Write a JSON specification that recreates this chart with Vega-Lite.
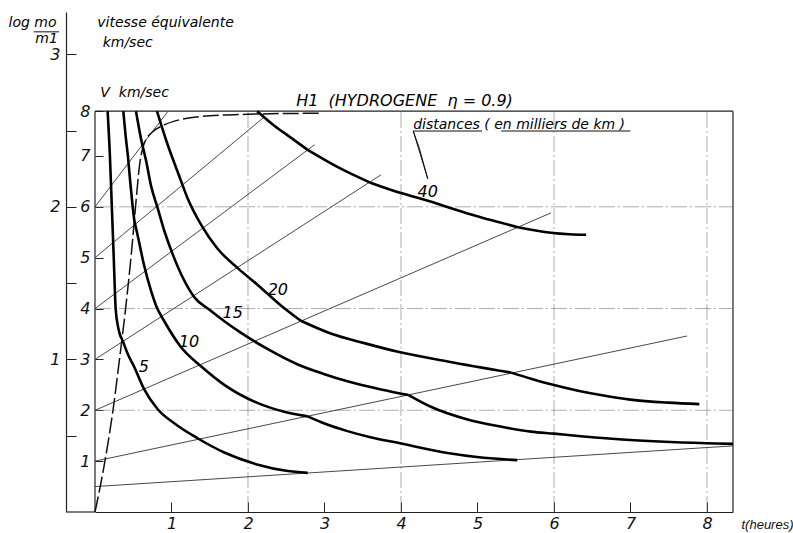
{
  "$schema": "https://vega.github.io/schema/vega-lite/v6.json",
  "width": 638,
  "height": 500,
  "autosize": {"type": "none"},
  "padding": {"left": 95, "top": 12, "right": 60, "bottom": 21},
  "background": "white",
  "config": {
    "view": {"stroke": null},
    "font": "DejaVu Sans",
    "axis": {
      "grid": false,
      "labelFont": "DejaVu Sans",
      "labelFontStyle": "italic",
      "labelFontSize": 16,
      "labelColor": "#111",
      "tickColor": "#222",
      "tickWidth": 1,
      "domainColor": "#222",
      "domainWidth": 1.2,
      "titleFont": "Liberation Sans",
      "titleFontStyle": "italic",
      "titleFontWeight": "normal",
      "titleColor": "#111"
    }
  },
  "datasets": {
    "grid": [
      {"t": 2, "V": 0, "t2": 2, "V2": 7.88},
      {"t": 4, "V": 0, "t2": 4, "V2": 7.88},
      {"t": 6, "V": 0, "t2": 6, "V2": 7.88},
      {"t": 8, "V": 0, "t2": 8, "V2": 7.88},
      {"t": 0, "V": 2, "t2": 8.34, "V2": 2},
      {"t": 0, "V": 4, "t2": 8.34, "V2": 4},
      {"t": 0, "V": 6, "t2": 8.34, "V2": 6}
    ],
    "frame": [
      {"t": 0, "V": 7.88, "t2": 8.34, "V2": 7.88},
      {"t": 8.34, "V": 0, "t2": 8.34, "V2": 7.88},
      {"t": 0, "V": 0, "t2": 0, "V2": 7.88}
    ],
    "rays": [
      {"ray": "A", "t": 0, "V": 0.5}, {"ray": "A", "t": 8.34, "V": 1.3},
      {"ray": "B", "t": 0, "V": 1.0}, {"ray": "B", "t": 7.74, "V": 3.46},
      {"ray": "C", "t": 0, "V": 2.0}, {"ray": "C", "t": 5.96, "V": 5.88},
      {"ray": "D", "t": 0, "V": 3.0}, {"ray": "D", "t": 3.74, "V": 6.63},
      {"ray": "E", "t": 0, "V": 4.0}, {"ray": "E", "t": 2.87, "V": 7.22},
      {"ray": "F", "t": 0, "V": 5.0}, {"ray": "F", "t": 2.2, "V": 7.75},
      {"ray": "G", "t": 0, "V": 6.0}, {"ray": "G", "t": 0.95, "V": 7.87}
    ],
    "equiv": [
      {"t": 0, "V": 0}, {"t": 0.13, "V": 1}, {"t": 0.235, "V": 2}, {"t": 0.32, "V": 3},
      {"t": 0.4, "V": 4}, {"t": 0.47, "V": 5}, {"t": 0.53, "V": 6}, {"t": 0.56, "V": 6.5},
      {"t": 0.585, "V": 6.85}, {"t": 0.615, "V": 7.1}, {"t": 0.645, "V": 7.25},
      {"t": 0.75, "V": 7.47}, {"t": 0.89, "V": 7.6}, {"t": 1.1, "V": 7.71},
      {"t": 1.5, "V": 7.79}, {"t": 2.0, "V": 7.82}, {"t": 2.95, "V": 7.84}
    ],
    "curves": [
      {"piece": "5a", "t": 0.165, "V": 7.88}, {"piece": "5a", "t": 0.195, "V": 7.0},
      {"piece": "5a", "t": 0.22, "V": 6.0}, {"piece": "5a", "t": 0.245, "V": 5.0},
      {"piece": "5a", "t": 0.27, "V": 4.0}, {"piece": "5a", "t": 0.3, "V": 3.65},
      {"piece": "5a", "t": 0.33, "V": 3.47}, {"piece": "5a", "t": 0.36, "V": 3.38},
      {"piece": "5b", "t": 0.36, "V": 3.38}, {"piece": "5b", "t": 0.43, "V": 3.1},
      {"piece": "5b", "t": 0.51, "V": 2.86}, {"piece": "5b", "t": 0.64, "V": 2.42},
      {"piece": "5b", "t": 0.82, "V": 2.02}, {"piece": "5b", "t": 1.04, "V": 1.74},
      {"piece": "5b", "t": 1.34, "V": 1.45}, {"piece": "5b", "t": 1.69, "V": 1.17},
      {"piece": "5b", "t": 2.13, "V": 0.93}, {"piece": "5b", "t": 2.5, "V": 0.81},
      {"piece": "5b", "t": 2.78, "V": 0.77},

      {"piece": "10a", "t": 0.37, "V": 7.88}, {"piece": "10a", "t": 0.4, "V": 7.4},
      {"piece": "10a", "t": 0.43, "V": 7.0}, {"piece": "10a", "t": 0.46, "V": 6.5},
      {"piece": "10a", "t": 0.49, "V": 6.04}, {"piece": "10a", "t": 0.515, "V": 5.72},
      {"piece": "10b", "t": 0.515, "V": 5.72}, {"piece": "10b", "t": 0.56, "V": 5.42},
      {"piece": "10b", "t": 0.64, "V": 4.86}, {"piece": "10b", "t": 0.73, "V": 4.36},
      {"piece": "10b", "t": 0.8, "V": 4.05}, {"piece": "10b", "t": 0.91, "V": 3.74},
      {"piece": "10b", "t": 1.12, "V": 3.25}, {"piece": "10b", "t": 1.39, "V": 2.86},
      {"piece": "10b", "t": 1.69, "V": 2.5}, {"piece": "10b", "t": 2.13, "V": 2.14},
      {"piece": "10b", "t": 2.45, "V": 1.98}, {"piece": "10b", "t": 2.78, "V": 1.88},
      {"piece": "10c", "t": 2.78, "V": 1.88}, {"piece": "10c", "t": 3.0, "V": 1.74},
      {"piece": "10c", "t": 3.3, "V": 1.59}, {"piece": "10c", "t": 3.6, "V": 1.47},
      {"piece": "10c", "t": 3.96, "V": 1.36}, {"piece": "10c", "t": 4.61, "V": 1.16},
      {"piece": "10c", "t": 5.05, "V": 1.07}, {"piece": "10c", "t": 5.52, "V": 1.02},

      {"piece": "15a", "t": 0.536, "V": 7.88}, {"piece": "15a", "t": 0.6, "V": 7.35},
      {"piece": "15a", "t": 0.67, "V": 6.89}, {"piece": "15a", "t": 0.73, "V": 6.43},
      {"piece": "15a", "t": 0.82, "V": 5.97}, {"piece": "15a", "t": 0.91, "V": 5.51},
      {"piece": "15a", "t": 1.02, "V": 5.05}, {"piece": "15a", "t": 1.15, "V": 4.6},
      {"piece": "15a", "t": 1.3, "V": 4.22}, {"piece": "15a", "t": 1.5, "V": 3.97},
      {"piece": "15a", "t": 1.7, "V": 3.74}, {"piece": "15a", "t": 1.9, "V": 3.53},
      {"piece": "15a", "t": 2.26, "V": 3.2}, {"piece": "15a", "t": 2.65, "V": 2.9},
      {"piece": "15a", "t": 3.0, "V": 2.71}, {"piece": "15a", "t": 3.3, "V": 2.57},
      {"piece": "15a", "t": 3.74, "V": 2.41}, {"piece": "15a", "t": 4.1, "V": 2.3},
      {"piece": "15b", "t": 4.1, "V": 2.3}, {"piece": "15b", "t": 4.39, "V": 2.07},
      {"piece": "15b", "t": 4.87, "V": 1.82}, {"piece": "15b", "t": 5.3, "V": 1.68},
      {"piece": "15b", "t": 5.7, "V": 1.58}, {"piece": "15b", "t": 6.0, "V": 1.54},
      {"piece": "15b", "t": 6.35, "V": 1.49}, {"piece": "15b", "t": 7.05, "V": 1.41},
      {"piece": "15b", "t": 7.6, "V": 1.37}, {"piece": "15b", "t": 8.34, "V": 1.34},

      {"piece": "20a", "t": 0.81, "V": 7.88}, {"piece": "20a", "t": 0.95, "V": 7.22},
      {"piece": "20a", "t": 1.08, "V": 6.69}, {"piece": "20a", "t": 1.21, "V": 6.17},
      {"piece": "20a", "t": 1.39, "V": 5.64}, {"piece": "20a", "t": 1.6, "V": 5.18},
      {"piece": "20a", "t": 1.87, "V": 4.79}, {"piece": "20a", "t": 2.13, "V": 4.46},
      {"piece": "20a", "t": 2.43, "V": 4.06}, {"piece": "20a", "t": 2.69, "V": 3.76},
      {"piece": "20b", "t": 2.69, "V": 3.76}, {"piece": "20b", "t": 3.08, "V": 3.51},
      {"piece": "20b", "t": 3.52, "V": 3.32}, {"piece": "20b", "t": 3.96, "V": 3.15},
      {"piece": "20b", "t": 4.61, "V": 2.96}, {"piece": "20b", "t": 5.44, "V": 2.74},
      {"piece": "20c", "t": 5.44, "V": 2.74}, {"piece": "20c", "t": 5.7, "V": 2.62},
      {"piece": "20c", "t": 5.96, "V": 2.51}, {"piece": "20c", "t": 6.3, "V": 2.39},
      {"piece": "20c", "t": 6.61, "V": 2.3}, {"piece": "20c", "t": 7.0, "V": 2.21},
      {"piece": "20c", "t": 7.49, "V": 2.15}, {"piece": "20c", "t": 7.9, "V": 2.12},

      {"piece": "40a", "t": 2.12, "V": 7.88}, {"piece": "40a", "t": 2.34, "V": 7.6},
      {"piece": "40a", "t": 2.56, "V": 7.36}, {"piece": "40a", "t": 2.78, "V": 7.12},
      {"piece": "40b", "t": 2.78, "V": 7.12}, {"piece": "40b", "t": 3.2, "V": 6.76},
      {"piece": "40b", "t": 3.59, "V": 6.48},
      {"piece": "40c", "t": 3.59, "V": 6.48}, {"piece": "40c", "t": 4.0, "V": 6.27},
      {"piece": "40c", "t": 4.35, "V": 6.12}, {"piece": "40c", "t": 4.87, "V": 5.87},
      {"piece": "40c", "t": 5.2, "V": 5.73}, {"piece": "40c", "t": 5.53, "V": 5.6},
      {"piece": "40d", "t": 5.53, "V": 5.6}, {"piece": "40d", "t": 5.96, "V": 5.49},
      {"piece": "40d", "t": 6.2, "V": 5.46}, {"piece": "40d", "t": 6.42, "V": 5.45}
    ],
    "strokes": [
      {"t": 4.16, "V": 7.49, "t2": 5.06, "V2": 7.49},
      {"t": 5.31, "V": 7.49, "t2": 7.0, "V2": 7.49},
      {"t": -0.8, "V": 9.44, "t2": -0.47, "V2": 9.44},
      {"t": 4.16, "V": 7.49, "t2": 4.35, "V2": 6.55},
      {"t": 4.16, "V": 7.49, "t2": 4.24, "V2": 7.15},
      {"t": 4.24, "V": 7.15, "t2": 4.35, "V2": 6.55}
    ],
    "notes": [
      {"grp": "curve", "t": 0.64, "V": 2.85, "text": "5"},
      {"grp": "curve", "t": 1.23, "V": 3.34, "text": "10"},
      {"grp": "curve", "t": 1.8, "V": 3.91, "text": "15"},
      {"grp": "curve", "t": 2.39, "V": 4.36, "text": "20"},
      {"grp": "curve", "t": 4.35, "V": 6.29, "text": "40"},
      {"grp": "head", "t": 2.63, "V": 8.08, "text": "H1\u00a0\u00a0(HYDROGENE\u00a0\u00a0η\u00a0=\u00a00.9)"},
      {"grp": "note", "t": 0.03, "V": 9.61, "text": "vitesse équivalente"},
      {"grp": "note", "t": 0.1, "V": 9.22, "text": "km/sec"},
      {"grp": "note", "t": 0.07, "V": 8.24, "text": "V\u00a0\u00a0km/sec"},
      {"grp": "note", "t": 4.16, "V": 7.6, "text": "distances\u00a0(\u00a0en milliers de km\u00a0)"},
      {"grp": "note", "t": -1.13, "V": 9.61, "text": "log\u00a0mo"},
      {"grp": "note", "t": -0.78, "V": 9.3, "text": "m1"}
    ]
  },
  "layer": [
    {
      "encoding": {
        "x": {
          "field": "t", "type": "quantitative",
          "scale": {"domain": [0, 8.34], "nice": false, "zero": false},
          "axis": {
            "orient": "bottom",
            "values": [1, 2, 3, 4, 5, 6, 7, 8],
            "format": "d",
            "tickSize": -10,
            "labelPadding": 13,
            "title": "t(heures)",
            "titleFontSize": 13,
            "titleX": 672,
            "titleY": 12,
            "titleAlign": "center",
            "titleBaseline": "middle",
            "titleAnchor": null
          }
        },
        "y": {
          "field": "V", "type": "quantitative",
          "scale": {"domain": [0, 9.83], "nice": false, "zero": false},
          "axis": {
            "orient": "left",
            "values": [1, 2, 3, 4, 5, 6, 7, 7.88],
            "labelExpr": "datum.value > 7.5 ? '8' : format(datum.value, 'd')",
            "tickSize": -8,
            "labelPadding": 13,
            "domain": false,
            "title": null
          }
        }
      },
      "layer": [
        {
          "data": {"name": "grid"},
          "mark": {"type": "rule", "color": "#777", "strokeWidth": 0.6, "strokeDash": [16, 3, 2, 3]},
          "encoding": {"x2": {"field": "t2"}, "y2": {"field": "V2"}}
        },
        {
          "data": {"name": "frame"},
          "mark": {"type": "rule", "color": "#222", "strokeWidth": 1.2},
          "encoding": {"x2": {"field": "t2"}, "y2": {"field": "V2"}}
        },
        {
          "data": {"name": "rays"},
          "mark": {"type": "line", "color": "#333", "strokeWidth": 0.9},
          "encoding": {"detail": {"field": "ray"}}
        },
        {
          "data": {"name": "equiv"},
          "mark": {"type": "line", "color": "#111", "strokeWidth": 1.5, "strokeDash": [16, 4], "interpolate": "monotone"},
          "encoding": {}
        },
        {
          "data": {"name": "curves"},
          "mark": {"type": "line", "color": "#000", "strokeWidth": 2.6, "interpolate": "monotone", "strokeJoin": "round"},
          "encoding": {"detail": {"field": "piece"}}
        },
        {
          "data": {"name": "strokes"},
          "mark": {"type": "rule", "color": "#111", "strokeWidth": 1},
          "encoding": {"x2": {"field": "t2"}, "y2": {"field": "V2"}}
        },
        {
          "data": {"name": "notes"},
          "transform": [{"filter": "datum.grp === 'curve'"}],
          "mark": {"type": "text", "font": "DejaVu Sans", "fontStyle": "italic", "fontSize": 16, "align": "center", "baseline": "middle", "color": "#000"},
          "encoding": {"text": {"field": "text"}}
        },
        {
          "data": {"name": "notes"},
          "transform": [{"filter": "datum.grp === 'head'"}],
          "mark": {"type": "text", "font": "DejaVu Sans", "fontStyle": "italic", "fontSize": 16, "align": "left", "baseline": "middle", "color": "#000"},
          "encoding": {"text": {"field": "text"}}
        },
        {
          "data": {"name": "notes"},
          "transform": [{"filter": "datum.grp === 'note'"}],
          "mark": {"type": "text", "font": "DejaVu Sans", "fontStyle": "italic", "fontSize": 14, "align": "left", "baseline": "middle", "color": "#000"},
          "encoding": {"text": {"field": "text"}}
        }
      ]
    },
    {
      "data": {"values": [{"L": 0}]},
      "mark": {"type": "rule", "color": "#222", "strokeWidth": 1.2},
      "encoding": {
        "x": {"datum": -0.366, "type": "quantitative", "scale": {"domain": [0, 8.34], "nice": false, "zero": false}},
        "x2": {"datum": 0},
        "y": {
          "field": "L", "type": "quantitative",
          "scale": {"domain": [0, 3.277], "nice": false, "zero": false},
          "axis": {
            "orient": "left",
            "offset": 29,
            "values": [0.5, 1, 1.5, 2, 2.5, 3],
            "labelExpr": "datum.value % 1 === 0 ? format(datum.value, 'd') : ''",
            "tickSize": -10,
            "labelPadding": 16,
            "title": null
          }
        }
      }
    }
  ],
  "resolve": {"scale": {"y": "independent"}}
}
